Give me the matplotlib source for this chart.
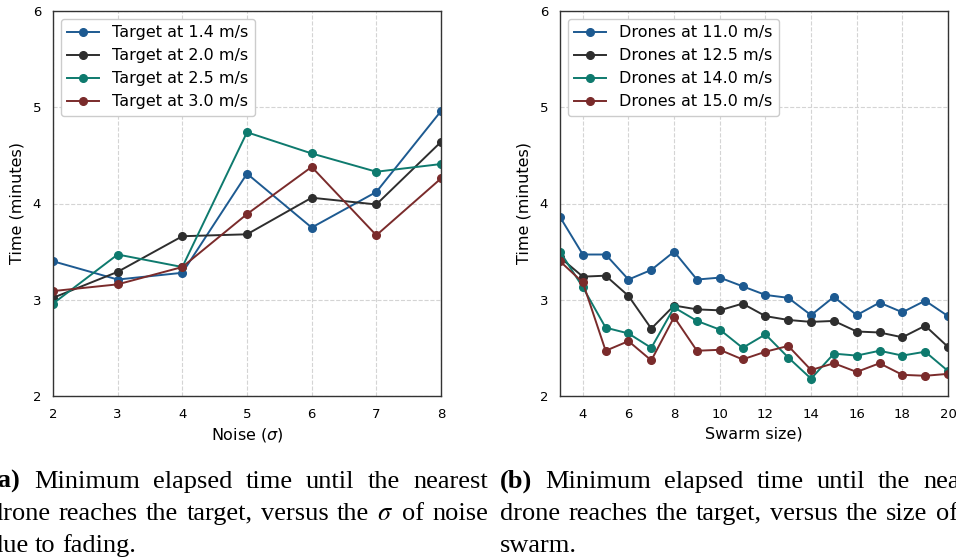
import numpy as np
import matplotlib.pyplot as plt

# noise sweep (left panel)
noise_sigma = [2, 3, 4, 5, 6, 7, 8]
target_speeds = [1.4, 2.0, 2.5, 3.0]
time_t14 = [3.40, 3.21, 3.28, 4.31, 3.75, 4.12, 4.96]
time_t20 = [3.02, 3.29, 3.66, 3.68, 4.06, 3.99, 4.64]
time_t25 = [2.96, 3.47, 3.34, 4.74, 4.52, 4.33, 4.41]
time_t30 = [3.09, 3.16, 3.34, 3.89, 4.38, 3.67, 4.26]

# swarm size sweep (right panel)
swarm_size = list(range(3, 21))
drone_speeds = [11.0, 12.5, 14.0, 15.0]
time_d110 = [3.86, 3.47, 3.47, 3.21, 3.31, 3.50, 3.21, 3.23, 3.14, 3.05,
             3.02, 2.84, 3.03, 2.84, 2.97, 2.87, 2.99, 2.83]
time_d125 = [3.44, 3.24, 3.25, 3.04, 2.70, 2.94, 2.90, 2.89, 2.96, 2.83,
             2.79, 2.77, 2.78, 2.67, 2.66, 2.61, 2.73, 2.51]
time_d140 = [3.50, 3.13, 2.71, 2.65, 2.50, 2.92, 2.78, 2.69, 2.50, 2.64,
             2.40, 2.18, 2.44, 2.42, 2.47, 2.42, 2.46, 2.26]
time_d150 = [3.40, 3.18, 2.47, 2.57, 2.37, 2.82, 2.47, 2.48, 2.38, 2.46,
             2.52, 2.27, 2.34, 2.25, 2.34, 2.22, 2.21, 2.23]

colors = ['#1d5a91', '#2e2e2e', '#0e7a6e', '#7a2b2b']

W, H = 956, 560
fig = plt.figure(figsize=(W/100, H/100), dpi=100)
ax1 = fig.add_axes([53/W, 1-396/H, 388/W, 385/H])
ax2 = fig.add_axes([560/W, 1-396/H, 388/W, 385/H])

def style_axes(ax):
    ax.set_ylim(2, 6)
    ax.set_yticks([2, 3, 4, 5, 6])
    ax.grid(True, linestyle='--', color='#d4d4d4', linewidth=0.8)
    ax.set_axisbelow(True)
    ax.tick_params(length=0, pad=8.5, labelsize=9.5)
    for s in ax.spines.values():
        s.set_color('#333333')
        s.set_linewidth(1.0)
    ax.set_ylabel('Time (minutes)', fontsize=11.5, labelpad=6)

for ys, v, c in zip([time_t14, time_t20, time_t25, time_t30], target_speeds, colors):
    ax1.plot(noise_sigma, ys, '-o', color=c, lw=1.4, ms=5.5,
             label='Target at {:.1f} m/s'.format(v))
ax1.set_xlim(2, 8)
ax1.set_xticks(noise_sigma)
ax1.set_xlabel(r'Noise ($\sigma$)', fontsize=11.5, labelpad=4)
style_axes(ax1)
ax1.legend(loc='upper left', fontsize=11.5, edgecolor='#cccccc', framealpha=1,
           borderaxespad=0.5)

for ys, v, c in zip([time_d110, time_d125, time_d140, time_d150], drone_speeds, colors):
    ax2.plot(swarm_size, ys, '-o', color=c, lw=1.4, ms=5.5,
             label='Drones at {:.1f} m/s'.format(v))
ax2.set_xlim(3, 20)
ax2.set_xticks(range(4, 21, 2))
ax2.set_xlabel('Swarm size)', fontsize=11.5, labelpad=4)
style_axes(ax2)
ax2.legend(loc='upper left', fontsize=11.5, edgecolor='#cccccc', framealpha=1,
           borderaxespad=0.5)

# justified captions under each panel
renderer = fig.canvas.get_renderer()
cap_size = 19
cap_kw = dict(fontsize=cap_size, family='Liberation Serif', math_fontfamily='stix',
              va='baseline', ha='left')

def caption_line(words, x0, width, ybase, justify=True, bold_first=False):
    texts = []
    for k, w in enumerate(words):
        weight = 'bold' if (bold_first and k == 0) else 'normal'
        texts.append(fig.text(0, 1 - ybase/H, w, fontweight=weight, **cap_kw))
    widths = [t.get_window_extent(renderer).width for t in texts]
    if justify and len(words) > 1:
        gap = (width - sum(widths)) / (len(words) - 1)
    else:
        gap = 0.25 * cap_size * 100 / 72
    x = x0
    for t, w in zip(texts, widths):
        t.set_x(x / W)
        x += w + gap

cap_w = 498
lines_a = [["(a)", "Minimum", "elapsed", "time", "until", "the", "nearest"],
           ["drone", "reaches", "the", "target,", "versus", "the", r"$\sigma$", "of", "noise"],
           ["due", "to", "fading."]]
lines_b = [["(b)", "Minimum", "elapsed", "time", "until", "the", "nearest"],
           ["drone", "reaches", "the", "target,", "versus", "the", "size", "of", "the"],
           ["swarm."]]
baselines = [488, 520, 552]
for x0, lines in [(-10, lines_a), (500, lines_b)]:
    for k, (words, yb) in enumerate(zip(lines, baselines)):
        caption_line(words, x0, cap_w, yb, justify=(k < 2), bold_first=(k == 0))

fig.savefig('out.png', dpi=100)
